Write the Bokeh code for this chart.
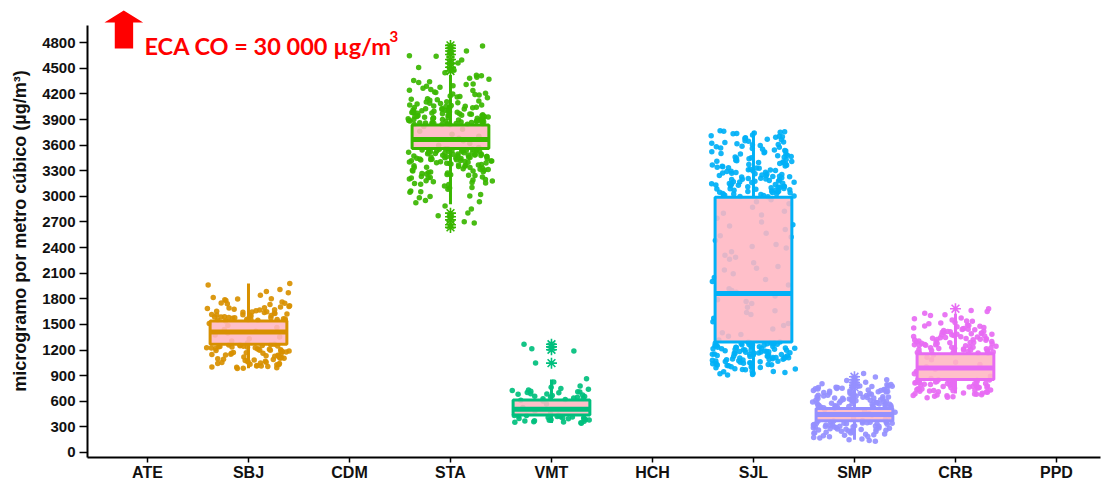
import numpy as np
from bokeh.plotting import figure
from bokeh.models import ColumnDataSource, FixedTicker, Label, PolyAnnotation, Range1d
from bokeh.embed import file_html
from bokeh.resources import INLINE

# ---------------- data ----------------
stations = ["ATE", "SBJ", "CDM", "STA", "VMT", "HCH", "SJL", "SMP", "CRB", "PPD"]
y_ticks = [0, 300, 600, 900, 1200, 1500, 1800, 2100, 2400, 2700, 3000, 3300,
           3600, 3900, 4200, 4500, 4800]

box_station = ["SBJ", "STA", "VMT", "SJL", "SMP", "CRB"]
box_color = ["#D89000", "#39B600", "#00BF7D", "#00B0F6", "#9590FF", "#E76BF3"]
q1 = [1267, 3561, 440, 1294, 370, 855]
median = [1412, 3667, 505, 1863, 445, 988]
q3 = [1541, 3835, 615, 2988, 515, 1157]
whisker_low = [985, 2906, 345, 906, 149, 690]
whisker_high = [1978, 4420, 855, 3765, 740, 1625]

outlier_station = ["STA", "STA", "STA", "STA", "STA", "STA", "STA", "STA",
                   "STA", "STA", "STA", "STA", "STA",
                   "VMT", "VMT", "VMT", "VMT",
                   "SMP", "SMP", "SMP", "SMP", "SMP", "CRB"]
outlier_value = [4768, 4735, 4702, 4661, 4603, 4557, 4512, 4468,
                 2803, 2761, 2724, 2668, 2636,
                 1268, 1237, 1203, 1046,
                 886, 851, 818, 789, 762, 1684]

sbj_values = [1978, 1962, 1908, 1886, 1871, 1842, 1816, 1801, 1797, 1788, 1779, 1763, 1752,
              1741, 1733, 1719, 1711, 1703, 1694, 1687, 1676, 1669, 1661, 1653, 1646, 1641,
              1634, 1627, 1622, 1616, 1609, 1603, 1598, 1591, 1587, 1582, 1577, 1571, 1566,
              1561, 1557, 1552, 1548, 1544, 1539, 1512, 1486, 1463, 1441, 1419, 1398, 1377,
              1352, 1331, 1306, 1284, 1268, 1262, 1258, 1253, 1249, 1244, 1241, 1236, 1231,
              1227, 1223, 1218, 1213, 1209, 1204, 1198, 1193, 1187, 1182, 1176, 1169, 1163,
              1158, 1151, 1146, 1139, 1132, 1127, 1119, 1112, 1104, 1098, 1091, 1084, 1077,
              1069, 1061, 1053, 1047, 1041, 1034, 1026, 1019, 1012, 1006, 999, 993, 987, 982,
              1672, 1638, 1607, 1579, 1559, 1247, 1226, 1197, 1171, 1143, 1116, 1088, 1058,
              1029, 1001, 1749, 1692, 1649, 1612, 1586, 1563, 1551, 1259, 1238, 1212, 1189,
              1161, 1134, 1103, 1072, 1043, 1014]

sta_values = [4762, 4703, 4648, 4641, 4597, 4563, 4508, 4476, 4447, 4418, 4396, 4371, 4358,
              4334, 4317, 4296, 4288, 4266, 4251, 4239, 4223, 4207, 4198, 4187, 4176, 4168,
              4154, 4143, 4137, 4126, 4118, 4104, 4097, 4091, 4083, 4071, 4064, 4058, 4049,
              4043, 4037, 4029, 4022, 4016, 4009, 4003, 3998, 3991, 3986, 3979, 3973, 3968,
              3961, 3957, 3951, 3946, 3939, 3934, 3928, 3923, 3917, 3912, 3906, 3901, 3897,
              3891, 3886, 3879, 3874, 3869, 3863, 3858, 3854, 3849, 3844, 3839, 3818, 3787,
              3762, 3728, 3703, 3679, 3652, 3618, 3597, 3572, 3556, 3551, 3547, 3541, 3536,
              3531, 3524, 3519, 3516, 3509, 3503, 3498, 3494, 3488, 3483, 3477, 3472, 3468,
              3461, 3457, 3452, 3446, 3441, 3437, 3431, 3426, 3419, 3413, 3407, 3398, 3391,
              3384, 3373, 3366, 3357, 3349, 3342, 3331, 3322, 3314, 3306, 3297, 3288, 3279,
              3268, 3261, 3252, 3243, 3231, 3222, 3214, 3203, 3196, 3184, 3172, 3163, 3151,
              3138, 3121, 3104, 3082, 3063, 3047, 3021, 3004, 2983, 2951, 2924, 2887, 2853,
              2806, 2774, 2702, 2688,
              4052, 4033, 4011, 3994, 3982, 3964, 3948, 3931, 3919, 3903, 3893, 3881, 3866,
              3852, 3842, 3557, 3544, 3528, 3512, 3497, 3481, 3466, 3449, 3434, 3418, 3401,
              3387, 3362, 3337, 3309, 3284, 3256, 3227, 3192, 3157,
              4412, 4383, 4342, 4309, 4277, 4244, 4215, 4192, 4163, 4131, 4109, 4088, 4069,
              4055, 4041, 4026, 4014, 4001, 3989, 3976, 3966, 3953, 3943, 3936, 3925, 3914,
              3908, 3899, 3888, 3877, 3871, 3861, 3856, 3847, 3841, 3553, 3549, 3538, 3533,
              3521, 3514, 3506, 3492, 3485, 3474, 3463, 3454, 3443, 3428, 3415, 3404, 3393,
              3379, 3368, 3352, 3339, 3318, 3296, 3273, 3248, 3219, 3181, 3142, 3097, 3053,
              2998, 2937]

vmt_values = [1267, 1215, 1188, 1047, 862, 824, 778, 765, 748, 741, 733, 727, 716, 709, 702,
              698, 688, 681, 673, 667, 659, 651, 646, 637, 629, 621, 603, 568, 527, 486, 452,
              437, 432, 426, 419, 414, 408, 403, 398, 392, 387, 381, 376, 371, 366, 359, 354,
              348, 343, 712, 684, 655, 633, 611, 434, 421, 409, 396, 383, 369, 356]

sjl_values = [3768, 3757, 3742, 3736, 3719, 3704, 3693, 3681, 3668, 3652, 3644, 3631, 3617,
              3603, 3594, 3582, 3567, 3553, 3544, 3532, 3518, 3503, 3494, 3482, 3468, 3453,
              3446, 3432, 3423, 3411, 3402, 3393, 3384, 3372, 3363, 3354, 3347, 3336, 3328,
              3317, 3309, 3298, 3291, 3283, 3274, 3266, 3257, 3249, 3241, 3233, 3226, 3218,
              3209, 3201, 3193, 3186, 3177, 3169, 3162, 3154, 3146, 3139, 3131, 3124, 3116,
              3108, 3101, 3093, 3086, 3078, 3071, 3063, 3056, 3048, 3041, 3033, 3026, 3018,
              3011, 3003, 2996, 2961, 2913, 2872, 2826, 2781, 2743, 2698, 2652, 2611, 2567,
              2524, 2483, 2437, 2396, 2352, 2309, 2264, 2221, 2177, 2136, 2092, 2048, 2003,
              1962, 1917, 1876, 1834, 1788, 1746, 1702, 1661, 1617, 1573, 1532, 1488, 1447,
              1403, 1362, 1318, 1291, 1286, 1282, 1277, 1273, 1268, 1264, 1259, 1254, 1251,
              1246, 1242, 1237, 1232, 1228, 1223, 1219, 1214, 1209, 1206, 1201, 1196, 1192,
              1187, 1182, 1178, 1173, 1168, 1164, 1159, 1154, 1151, 1146, 1141, 1137, 1132,
              1127, 1123, 1118, 1113, 1108, 1104, 1099, 1094, 1089, 1084, 1079, 1073, 1068,
              1062, 1057, 1051, 1044, 1038, 1031, 1024, 1017, 1009, 1001, 992, 981, 968, 953,
              937, 921, 906,
              3752, 3711, 3687, 3623, 3574, 3511, 3462, 3417, 3378, 3341, 3303, 3271, 3236,
              3204, 3172, 3141, 3112, 3083, 3052, 3021, 1289, 1271, 1257, 1239, 1221, 1203,
              1184, 1166, 1148, 1129, 1111, 1092, 1071, 1049, 1027, 1004, 977, 944, 912,
              3761, 3733, 3698, 3662, 3637, 3608, 3587, 3559, 3537, 3521, 3497, 3476, 3458,
              3439, 3407, 3396, 3368, 3351, 3333, 3312, 3294, 3279, 3262, 3244, 3229, 3213,
              3197, 3181, 3166, 3149, 3134, 3119, 3104, 3089, 3074, 3059, 3044, 3029, 3014,
              2999, 2937, 2802, 2668, 2539, 2411, 2287, 2158, 2026, 1897, 1769, 1638, 1511,
              1382, 1293, 1279, 1262, 1248, 1233, 1216, 1198, 1181, 1163, 1144, 1126, 1107,
              1087, 1066, 1043, 1019, 996, 972, 948, 927]

smp_values = [926, 884, 851, 823, 806, 794, 783, 776, 769, 761, 756, 749, 743, 738, 731, 726,
              719, 714, 707, 702, 697, 691, 686, 681, 676, 671, 666, 661, 657, 652, 647, 643,
              638, 634, 629, 625, 621, 616, 612, 607, 603, 599, 594, 590, 586, 581, 577, 572,
              568, 564, 559, 555, 551, 546, 542, 538, 533, 529, 524, 519, 503, 487, 471, 456,
              438, 421, 404, 388, 374, 366, 361, 357, 352, 348, 343, 339, 334, 330, 325, 321,
              316, 312, 307, 303, 298, 294, 289, 284, 279, 274, 268, 263, 257, 251, 246, 239,
              232, 224, 216, 207, 196, 183, 168, 149, 131,
              772, 752, 733, 712, 693, 672, 654, 632, 611, 592, 573, 553, 531, 362, 344, 327,
              309, 291, 272, 254, 236, 212, 188, 158,
              842, 797, 779, 764, 746, 727, 709, 688, 669, 651, 637, 619, 601, 583, 566, 548,
              527, 368, 355, 341, 323, 306, 287, 269, 249, 228, 203, 176, 141, 761, 717, 664,
              626, 579, 541, 336, 301, 259]

crb_values = [1684, 1652, 1631, 1603, 1576, 1553, 1538, 1521, 1507, 1493, 1481, 1472, 1463,
              1452, 1444, 1437, 1428, 1421, 1413, 1406, 1398, 1391, 1384, 1377, 1371, 1364,
              1357, 1351, 1344, 1338, 1332, 1326, 1319, 1313, 1307, 1301, 1296, 1289, 1284,
              1278, 1272, 1266, 1261, 1255, 1249, 1244, 1238, 1233, 1227, 1222, 1216, 1211,
              1205, 1199, 1194, 1188, 1183, 1177, 1172, 1166, 1161, 1142, 1116, 1087, 1058,
              1031, 1004, 976, 949, 921, 893, 867, 851, 846, 842, 837, 833, 828, 823, 819,
              814, 809, 805, 800, 796, 791, 786, 781, 777, 772, 767, 762, 757, 752, 747, 741,
              736, 730, 724, 717, 711, 704, 697, 689, 681, 672, 663, 652, 641,
              1541, 1488, 1449, 1417, 1386, 1355, 1324, 1293, 1262, 1231, 1201, 1171, 849,
              826, 802, 779, 755, 731, 708, 684, 659,
              1662, 1614, 1567, 1516, 1477, 1441, 1409, 1379, 1348, 1318, 1287, 1257, 1226,
              1196, 1168, 853, 831, 809, 786, 764, 742, 719, 693, 668, 646, 1459, 1393, 1335,
              1276, 1219, 1184, 818, 771, 726, 677]

station_values = {"SBJ": sbj_values, "STA": sta_values, "VMT": vmt_values,
                  "SJL": sjl_values, "SMP": smp_values, "CRB": crb_values}

# ---------------- figure ----------------
pos = {s: i + 1 for i, s in enumerate(stations)}
color_of = dict(zip(box_station, box_color))

Y0, Y1, YAXIS_TOP = -59, 5247, 5000
p = figure(width=1105, height=483, output_backend="svg", toolbar_location=None,
           x_range=Range1d(0.406, 10.436), y_range=Range1d(Y0, Y1),
           min_border_left=87, min_border_right=5, min_border_top=4, min_border_bottom=0)
p.background_fill_color = "white"
p.border_fill_color = "white"
p.outline_line_color = None
p.grid.visible = False

# jittered points (drawn first, boxes on top); deterministic hash jitter
px, py, pc = [], [], []
for k, (s, vals) in enumerate(station_values.items()):
    n = len(vals)
    idx = np.arange(n) + 1 + 17 * k
    h = np.sin(idx * 12.9898 + 4.1414) * 43758.5453
    jit = (h - np.floor(h) - 0.5) * 0.84
    px.extend(list(pos[s] + jit))
    py.extend(vals)
    pc.extend([color_of[s]] * n)
p.scatter(x=px, y=py, size=5.5, fill_color=pc, line_color=None, fill_alpha=0.92)

bx = [pos[s] for s in box_station]
box_src = ColumnDataSource(dict(x=bx, q1=q1, q3=q3, med=median, lo=whisker_low,
                                hi=whisker_high, color=box_color,
                                xl=[v - 0.38 for v in bx], xr=[v + 0.38 for v in bx]))
p.segment(x0="x", y0="q3", x1="x", y1="hi", line_color="color", line_width=3, source=box_src)
p.segment(x0="x", y0="q1", x1="x", y1="lo", line_color="color", line_width=3, source=box_src)
p.vbar(x="x", width=0.76, bottom="q1", top="q3", fill_color="#FFB6C1", fill_alpha=0.88,
       line_color="color", line_width=3, source=box_src)
p.segment(x0="xl", y0="med", x1="xr", y1="med", line_color="color", line_width=5,
          source=box_src)

ox = [pos[s] for s in outlier_station]
oc = [color_of[s] for s in outlier_station]
p.scatter(x=ox, y=outlier_value, marker="asterisk", size=11, line_color=oc, line_width=1.6)

# axes
font = "Liberation Sans"
p.xaxis.ticker = FixedTicker(ticks=[pos[s] for s in stations])
p.xaxis.major_label_overrides = {pos[s]: s for s in stations}
p.yaxis.ticker = FixedTicker(ticks=y_ticks)
p.yaxis.bounds = (Y0, YAXIS_TOP)
for ax in (p.xaxis[0], p.yaxis[0]):
    ax.axis_line_width = 2
    ax.axis_line_color = "black"
    ax.major_tick_line_width = 1.5
    ax.major_tick_line_color = "black"
    ax.major_tick_in = 0
    ax.minor_tick_line_color = None
    ax.major_label_text_font = font
    ax.major_label_text_font_style = "bold"
    ax.major_label_text_color = "#111111"
p.xaxis.major_tick_out = 5
p.xaxis.major_label_standoff = 1
p.xaxis.major_label_text_font_size = "16px"
p.yaxis.major_tick_out = 8
p.yaxis.major_label_standoff = 4
p.yaxis.major_label_text_font_size = "15px"
p.yaxis.axis_label = "microgramo por metro cúbico (µg/m³)"
p.yaxis.axis_label_text_font = font
p.yaxis.axis_label_text_font_style = "bold"
p.yaxis.axis_label_text_font_size = "18px"
p.yaxis.axis_label_text_color = "#111111"
p.yaxis.axis_label_standoff = 9

# ECA annotation: red block arrow + text with superscript
arrow = PolyAnnotation(xs=[0.765, 0.957, 0.858, 0.858, 0.676, 0.676, 0.574],
                       ys=[5176, 5035, 5035, 4733, 4733, 5035, 5035],
                       fill_color="red", fill_alpha=1.0, line_color=None)
p.add_layout(arrow)
p.add_layout(Label(x=0.970, y=4756, text="ECA CO = 30 000 µg/m", text_font="Lato",
                   text_font_style="bold", text_font_size="23.5px", text_color="red",
                   text_baseline="alphabetic"))
p.add_layout(Label(x=3.396, y=4876, text="3", text_font="Lato",
                   text_font_style="bold", text_font_size="15px", text_color="red",
                   text_baseline="alphabetic"))

open("out.html", "w").write(file_html(p, INLINE))
